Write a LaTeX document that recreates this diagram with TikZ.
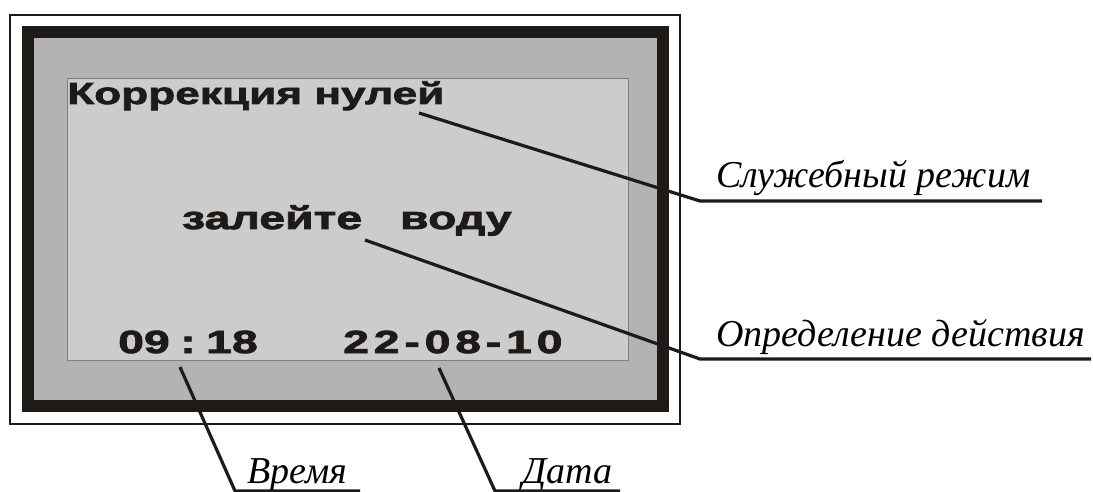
\documentclass[tikz,border=0pt]{standalone}
\usepackage{fontspec}
\setmainfont{Liberation Serif}
\newfontfamily\lcdfont[FakeStretch=1.45,FakeBold=2.5]{Liberation Sans}
\usetikzlibrary{positioning}
\definecolor{bezel}{HTML}{B3B3B3}
\definecolor{lcd}{HTML}{CCCCCC}
\definecolor{lcdedge}{HTML}{808080}
\definecolor{ink}{HTML}{1E1A17}
\tikzset{
	screentext/.style={anchor=base west, inner sep=0pt, text=ink,
		font=\lcdfont\bfseries\fontsize{#1}{#1}\selectfont},
	screentext/.default=31,
	labeltext/.style={anchor=base west, inner sep=0pt,
		font=\itshape\fontsize{38}{38}\selectfont},
	leader/.style={draw=ink, line width=3.2pt}
}

\begin{document}
\begin{tikzpicture}[x=1pt,y=-1pt]
	\useasboundingbox (0,0) rectangle (1093,492);
	% device frame
	\draw[ink,line width=2.5pt] (10,15) rectangle (680,424);
	\draw[ink,line width=12pt,fill=bezel] (28,32.5) rectangle (662.5,406);
	\draw[lcdedge,line width=1pt,fill=lcd] (67,79) rectangle (628,360);
	% display texts
	\node[screentext=30.5] (mode) at (67,104) {Коррекция нулей};
	\node[screentext=32] (action) at (182,229) {залейте\hspace{38pt}воду};
	\node[screentext=32] (time) at (118,353) {09\hspace{10.5pt}:\hspace{10.5pt}18};
	\node[screentext=32] (date) at (343,353) {\addfontfeature{LetterSpace=15}22-08-10};
	% captions
	\node[labeltext] (modelbl) at (716,187) {Служебный режим};
	\node[labeltext] (actlbl) at (716,346) {Определение действия};
	\node[labeltext] (timelbl) at (247,483) {Время};
	\node[labeltext] (datelbl) at (522,483) {Дата};
	% leaders
	\coordinate (m0) at (419,113);  \coordinate (m1) at (700,201);  \coordinate (m2) at (1042,201);
	\coordinate (a0) at (365,240);  \coordinate (a1) at (700,359);  \coordinate (a2) at (1091,359);
	\coordinate (t0) at (180,367);  \coordinate (t1) at (235,491);  \coordinate (t2) at (360,491);
	\coordinate (d0) at (439,368);  \coordinate (d1) at (495,491);  \coordinate (d2) at (620,491);
	\foreach \p in {m,a,t,d}
	\draw[leader] (\p0) -- (\p1) -- (\p2);
\end{tikzpicture}
\end{document}
